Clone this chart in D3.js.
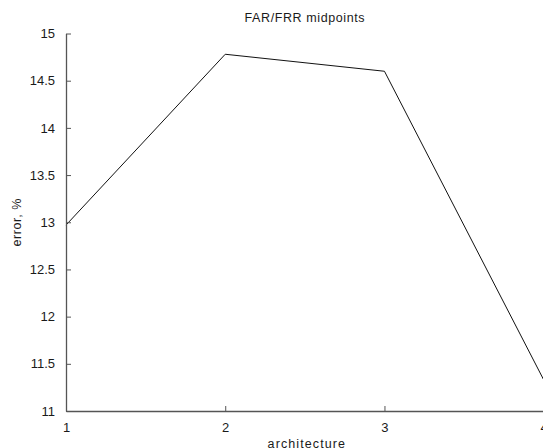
<!DOCTYPE html>
<html><head><meta charset="utf-8">
<script src="https://cdn.jsdelivr.net/npm/d3@7"></script>
<style>
html,body{margin:0;padding:0;background:#fff;overflow:hidden;}
text{font-family:Arial,"Liberation Sans",sans-serif;fill:#1a1a1a;}
</style></head>
<body>
<svg id="chart" width="543" height="448"></svg>
<script>
const architectures = [1, 2, 3, 4];
const errorValues = [12.97, 14.78, 14.60, 11.33];
const xTicks = [1, 2, 3, 4];
const yTicks = [11, 11.5, 12, 12.5, 13, 13.5, 14, 14.5, 15];
const titleText = "FAR/FRR midpoints";
const xLabelText = "architecture";
const yLabelText = "error, %";

const svg = d3.select("#chart");
const plotLeft = 66, plotRight = 543.7, plotTop = 33.5, plotBottom = 411;

const x = d3.scaleLinear().domain([1, 4]).range([plotLeft, plotRight]);
const y = d3.scaleLinear().domain([11, 15]).range([plotBottom, plotTop]);

// data line
const line = d3.line().x((d, i) => x(architectures[i])).y(d => y(d));
svg.append("path")
  .datum(errorValues)
  .attr("d", line)
  .attr("fill", "none")
  .attr("stroke", "#111")
  .attr("stroke-width", 1);

// x axis
const xAxis = d3.axisBottom(x).tickValues(xTicks).tickFormat(d3.format("d"))
  .tickSizeInner(-5).tickSizeOuter(0).tickPadding(12);
const gx = svg.append("g").attr("transform", `translate(0,${plotBottom})`).call(xAxis);
gx.select(".domain").attr("stroke", "#555").attr("stroke-width", 1.3);
gx.selectAll(".tick line").attr("stroke", "#555");
gx.selectAll(".tick text").attr("font-size", 13).attr("fill", "#1a1a1a").attr("font-family", "Arial, 'Liberation Sans', sans-serif");

// y axis
const yAxis = d3.axisLeft(y).tickValues(yTicks).tickFormat(d => String(d))
  .tickSizeInner(-5).tickSizeOuter(0).tickPadding(11);
const gy = svg.append("g").attr("transform", `translate(${plotLeft},0)`).call(yAxis);
gy.select(".domain").attr("stroke", "#555").attr("stroke-width", 1.3);
gy.selectAll(".tick line").attr("stroke", "#555");
gy.selectAll(".tick text").attr("font-size", 13).attr("fill", "#1a1a1a").attr("font-family", "Arial, 'Liberation Sans', sans-serif");

// title
svg.append("text")
  .attr("x", (plotLeft + plotRight) / 2)
  .attr("y", 22)
  .attr("text-anchor", "middle")
  .attr("font-size", 12.5)
  .attr("letter-spacing", 0.6)
  .text(titleText);

// x label
svg.append("text")
  .attr("x", (plotLeft + plotRight) / 2 + 2)
  .attr("y", 447.5)
  .attr("text-anchor", "middle")
  .attr("font-size", 12.5)
  .attr("letter-spacing", 1.1)
  .text(xLabelText);

// y label
svg.append("text")
  .attr("transform", `translate(21,${(plotTop + plotBottom) / 2}) rotate(-90)`)
  .attr("text-anchor", "middle")
  .attr("font-size", 12.5)
  .attr("letter-spacing", 0.6)
  .text(yLabelText);
</script>
</body></html>
